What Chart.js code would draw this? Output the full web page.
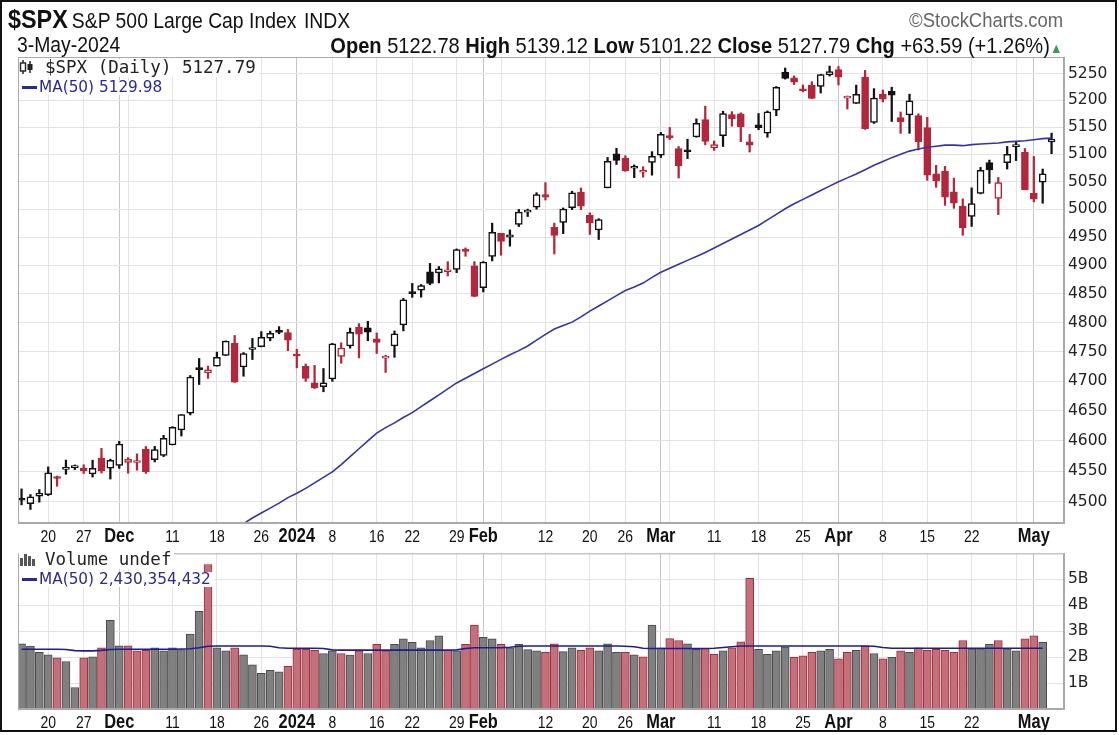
<!DOCTYPE html>
<html>
<head>
<meta charset="utf-8">
<script src="https://cdn.jsdelivr.net/npm/chart.js@4.4.1/dist/chart.umd.min.js"></script>
<style>
  body { margin: 0; background: #fff; }
  #wrap { position: relative; width: 1119px; height: 735px; background: #fff; overflow: hidden; font-family: "Liberation Sans", Arial, sans-serif; color: #111; }
  #frame { position: absolute; left: 0; top: 0; width: 1117px; height: 732px; box-sizing: border-box; border: 2px solid #111; pointer-events: none; }
  canvas { position: absolute; left: 0; }
  .nar { position: absolute; white-space: nowrap; transform: scaleX(0.9); }
  .nl { transform-origin: left top; }
  .nr { transform-origin: right top; }
  .lg { position: absolute; white-space: nowrap; background: #fff; line-height: 1; }
  .mono { font-family: "DejaVu Sans Mono", monospace; font-size: 17.5px; color: #222; }
  .ma { font-family: "DejaVu Sans", sans-serif; font-size: 15.3px; color: #2a2a90; }
  .dash { display: inline-block; width: 15px; height: 3px; background: #2a2a90; vertical-align: middle; margin: 0 2px 0 3px; }
</style>
</head>
<body>
<div id="wrap">
  <canvas id="price" width="1119" height="550" style="top:0"></canvas>
  <canvas id="volume" width="1119" height="195" style="top:540px"></canvas>

  <div class="nar nl" style="left:8px; top:4px;">
    <b style="font-size:26px">$SPX</b>
    <span style="font-size:21.5px">S&amp;P 500 Large Cap Index</span>
    <span style="font-size:21.5px; margin-left:4px">INDX</span>
  </div>
  <div class="nar nr" style="right:56px; top:8px; font-size:20.5px; color:#666;">&copy;StockCharts.com</div>
  <div class="nar nl" style="left:17px; top:33px; font-size:21.5px;">3-May-2024</div>
  <div class="nar nr" style="right:57px; top:33px; font-size:22.3px;">
    <b>Open</b> 5122.78 <b>High</b> 5139.12 <b>Low</b> 5101.22 <b>Close</b> 5127.79 <b>Chg</b> +63.59 (+1.26%)<span style="color:#3c9a4c; font-size:14px">&#9650;</span>
  </div>

  <div class="lg mono" style="left:19px; top:59px; padding-right:3px;">
    <svg width="16" height="14" viewBox="0 0 16 14" style="vertical-align:-1px"><line x1="4" y1="0" x2="4" y2="14" stroke="#222" stroke-width="1.5"/><rect x="1.5" y="3" width="5" height="8" fill="#fff" stroke="#222" stroke-width="1.4"/><line x1="11" y1="1" x2="11" y2="13" stroke="#222" stroke-width="1.5"/><rect x="8.5" y="4" width="5" height="6" fill="#222"/></svg><span style="margin-left:10px">$SPX (Daily) 5127.79</span>
  </div>
  <div class="lg ma" style="left:19px; top:80px; padding-right:3px;"><span class="dash"></span>MA(50) 5129.98</div>

  <div class="lg mono" style="left:19px; top:551px; padding-right:3px;">
    <svg width="16" height="14" viewBox="0 0 16 14" style="vertical-align:-1px"><rect x="1" y="6" width="3" height="8" fill="#555"/><rect x="5" y="2" width="3" height="12" fill="#555"/><rect x="9" y="4" width="3" height="10" fill="#555"/><rect x="13" y="7" width="3" height="7" fill="#555"/></svg><span style="margin-left:10px">Volume undef</span>
  </div>
  <div class="lg ma" style="left:19px; top:572px; padding-right:3px;"><span class="dash"></span>MA(50) 2,430,354,432</div>

  <div id="frame"></div>
</div>

<script>
// trading days shown, Nov 15 2023 .. May 3 2024 (index = position on the x axis)
const days = ['2023-11-15','2023-11-16','2023-11-17','2023-11-20','2023-11-21','2023-11-22','2023-11-24','2023-11-27','2023-11-28','2023-11-29','2023-11-30',
  '2023-12-01','2023-12-04','2023-12-05','2023-12-06','2023-12-07','2023-12-08','2023-12-11','2023-12-12','2023-12-13','2023-12-14','2023-12-15','2023-12-18','2023-12-19','2023-12-20','2023-12-21','2023-12-22','2023-12-26','2023-12-27','2023-12-28','2023-12-29',
  '2024-01-02','2024-01-03','2024-01-04','2024-01-05','2024-01-08','2024-01-09','2024-01-10','2024-01-11','2024-01-12','2024-01-16','2024-01-17','2024-01-18','2024-01-19','2024-01-22','2024-01-23','2024-01-24','2024-01-25','2024-01-26','2024-01-29','2024-01-30','2024-01-31',
  '2024-02-01','2024-02-02','2024-02-05','2024-02-06','2024-02-07','2024-02-08','2024-02-09','2024-02-12','2024-02-13','2024-02-14','2024-02-15','2024-02-16','2024-02-20','2024-02-21','2024-02-22','2024-02-23','2024-02-26','2024-02-27','2024-02-28','2024-02-29',
  '2024-03-01','2024-03-04','2024-03-05','2024-03-06','2024-03-07','2024-03-08','2024-03-11','2024-03-12','2024-03-13','2024-03-14','2024-03-15','2024-03-18','2024-03-19','2024-03-20','2024-03-21','2024-03-22','2024-03-25','2024-03-26','2024-03-27','2024-03-28',
  '2024-04-01','2024-04-02','2024-04-03','2024-04-04','2024-04-05','2024-04-08','2024-04-09','2024-04-10','2024-04-11','2024-04-12','2024-04-15','2024-04-16','2024-04-17','2024-04-18','2024-04-19','2024-04-22','2024-04-23','2024-04-24','2024-04-25','2024-04-26','2024-04-29','2024-04-30',
  '2024-05-01','2024-05-02','2024-05-03'];

const opens = [4505.30,4497.08,4509.55,4511.70,4538.77,4553.04,4555.84,4554.86,4545.55,4571.84,4554.87,
  4559.43,4564.37,4564.37,4586.23,4568.84,4576.20,4593.39,4618.30,4646.20,4721.04,4714.23,4725.58,4743.72,4764.73,4724.29,4753.92,4758.86,4773.45,4786.44,4782.88,
  4745.20,4725.07,4697.42,4690.57,4703.70,4741.93,4759.94,4792.13,4791.18,4772.35,4739.13,4760.10,4796.28,4853.42,4856.80,4888.56,4886.66,4888.91,4892.95,4925.89,4899.19,
  4861.11,4916.06,4957.19,4950.16,4973.05,4995.16,5004.17,5026.83,4967.94,4976.44,5003.14,5031.13,4989.32,4963.03,5038.83,5100.92,5093.00,5074.60,5067.20,5085.36,
  5098.51,5130.99,5110.52,5108.03,5132.38,5164.46,5111.96,5134.30,5173.49,5175.14,5123.31,5154.77,5139.09,5181.69,5253.43,5242.48,5219.52,5228.85,5226.31,5248.03,
  5257.97,5204.29,5194.37,5244.05,5158.95,5211.37,5217.03,5167.88,5172.95,5171.51,5149.67,5064.59,5068.97,5031.52,5005.44,4987.33,5028.85,5084.86,5019.88,5084.65,5114.13,5103.78,
  5029.03,5049.32,5122.78];
const highs = [4521.17,4511.99,4520.12,4557.11,4542.14,4568.43,4560.31,4560.52,4568.14,4587.64,4569.89,
  4599.39,4572.37,4578.56,4590.74,4590.92,4609.23,4623.71,4643.93,4709.69,4738.57,4725.53,4749.52,4768.69,4778.01,4748.71,4772.94,4784.72,4785.39,4793.30,4788.43,
  4754.33,4729.29,4726.78,4721.49,4764.54,4765.47,4790.80,4798.50,4802.40,4782.34,4744.23,4785.79,4842.07,4868.41,4866.48,4903.68,4898.15,4906.69,4929.31,4931.09,4906.75,
  4906.97,4975.29,4957.19,4963.13,4999.89,5000.40,5030.06,5048.39,4975.29,5002.52,5032.72,5038.70,4993.71,4983.21,5094.39,5111.06,5097.66,5080.69,5077.37,5104.99,
  5140.33,5149.67,5114.54,5127.97,5165.62,5189.26,5124.66,5179.87,5179.14,5176.85,5136.86,5175.60,5180.31,5226.19,5261.10,5246.09,5229.09,5235.16,5249.26,5264.85,
  5263.95,5208.34,5228.75,5256.59,5222.18,5219.57,5224.81,5178.43,5211.78,5175.03,5168.43,5079.84,5077.96,5056.66,5019.02,5038.84,5076.12,5089.48,5057.75,5114.62,5123.49,5110.83,
  5096.12,5073.21,5139.12];
const lows = [4495.31,4487.83,4499.66,4510.36,4525.51,4545.05,4552.80,4546.32,4540.51,4547.15,4537.24,
  4554.71,4546.72,4551.68,4546.50,4565.22,4574.06,4593.39,4608.09,4643.23,4694.34,4704.69,4725.58,4743.72,4697.82,4708.35,4736.77,4758.45,4768.90,4780.98,4751.99,
  4722.67,4699.71,4687.53,4682.11,4699.82,4730.35,4756.20,4739.58,4768.98,4747.12,4714.82,4740.57,4785.87,4844.05,4844.37,4865.94,4869.34,4881.47,4887.40,4916.27,4845.15,
  4853.52,4907.99,4918.09,4934.16,4969.05,4987.09,5000.34,5016.83,4920.31,4956.45,4999.44,4999.52,4955.02,4946.00,5038.83,5081.46,5068.91,5057.29,5058.35,5061.89,
  5094.16,5127.18,5056.82,5092.22,5131.59,5117.50,5107.25,5114.48,5151.88,5123.30,5104.35,5145.47,5131.59,5171.55,5240.09,5229.87,5216.09,5203.42,5213.92,5245.82,
  5229.20,5184.05,5194.37,5146.06,5157.21,5197.35,5160.78,5138.70,5138.77,5107.94,5052.47,5039.83,5007.25,5001.89,4953.56,4969.40,5027.96,5047.02,4990.58,5073.14,5088.65,5035.31,
  5013.45,5011.05,5101.22];
const closes = [4502.88,4508.24,4514.02,4547.38,4538.19,4556.62,4559.34,4550.43,4554.89,4550.58,4567.80,
  4594.63,4569.78,4567.18,4549.34,4585.59,4604.37,4622.44,4643.70,4707.09,4719.55,4719.19,4740.56,4768.37,4698.35,4746.75,4754.63,4774.75,4781.58,4783.35,4769.83,
  4742.83,4704.81,4688.68,4697.24,4763.54,4756.50,4783.45,4780.24,4783.83,4765.98,4739.21,4780.94,4839.81,4850.43,4864.60,4868.55,4894.16,4890.97,4927.93,4924.97,4845.65,
  4906.19,4958.61,4942.81,4954.23,4995.06,4997.91,5026.61,5021.84,4953.17,5000.62,5029.73,5005.57,4975.51,4981.80,5087.03,5088.80,5069.53,5078.18,5069.76,5096.27,
  5137.08,5130.95,5078.65,5104.76,5157.36,5123.69,5117.94,5175.27,5165.31,5150.48,5117.09,5149.42,5178.51,5224.62,5241.53,5234.18,5218.19,5203.58,5248.49,5254.35,
  5243.77,5205.81,5211.49,5147.21,5204.34,5202.39,5209.91,5160.64,5199.06,5123.41,5061.82,5051.41,5022.21,5011.12,4967.23,5010.60,5070.55,5071.63,5048.42,5099.96,5116.17,5035.69,
  5018.39,5064.20,5127.79];
const prevCloseBefore = 4495.70; // close of Nov 14, colours the first candle

// 50-day moving average of the close (null = not on screen)
const priceMA = [null,null,null,null,null,null,null,null,null,null,null,null,null,null,null,null,null,null,null,null,null,null,
  4440,4449,4457,4465,4474,4482,4490,4498,4507,4514,4522,4531,4540,4549,4561,4574,4587,4600,4613,4622,4630,4639,4647,4657,4667,4677,4687,4697,
  4705,4713,4721,4729,4737,4745,4752,4760,4770,4780,4789,4795,4801,4810,4820,4829,4838,4847,4856,4862,4869,4879,4888,4895,4902,4909,4916,4923,
  4931,4939,4947,4955,4963,4971,4981,4991,5001,5010,5018,5026,5034,5042,5050,5057,5064,5072,5080,5087,5094,5100,5106,5110,5113,5115,5117,5117,
  5116,5118,5119,5120,5121,5123,5124,5125,5127,5129,5130];

// daily volume, billions of shares (May 3 not yet reported: "undef")
const volumes = [2.51,2.42,2.18,2.09,1.97,1.83,0.83,1.97,2.01,2.36,3.42,
  2.43,2.43,2.24,2.26,2.36,2.24,2.36,2.29,2.89,3.76,5.57,2.36,2.24,2.36,2.09,1.70,1.37,1.49,1.43,1.64,
  2.30,2.30,2.26,2.14,2.24,2.14,2.08,2.24,2.14,2.49,2.24,2.49,2.70,2.57,2.36,2.64,2.82,2.26,2.24,2.49,3.23,
  2.76,2.70,2.49,2.36,2.49,2.29,2.24,2.18,2.51,2.21,2.36,2.26,2.36,2.24,2.51,2.18,2.18,2.09,2.01,3.23,
  2.36,2.71,2.64,2.51,2.30,2.33,2.11,2.24,2.36,2.59,5.04,2.30,2.11,2.24,2.39,1.99,2.05,2.18,2.24,2.30,
  1.93,2.18,2.26,2.43,2.14,1.93,1.99,2.24,2.18,2.36,2.26,2.30,2.26,2.18,2.64,2.32,2.32,2.49,2.64,2.32,2.24,2.70,
  2.82,2.57,null];
// 50-day average volume, billions
const volumeMA = [2.30,2.30,2.30,2.30,2.30,2.29,2.25,2.24,2.24,2.26,
  2.29,2.30,2.30,2.30,2.30,2.30,2.30,2.30,2.31,2.32,2.36,
  2.42,2.43,2.43,2.43,2.43,2.43,2.43,2.42,
  2.36,2.34,2.34,2.34,2.34,2.33,
  2.28,2.27,2.27,2.27,2.27,2.27,2.27,2.27,2.27,2.27,2.27,2.27,2.27,2.27,2.28,
  2.33,2.36,2.36,2.36,2.36,2.38,
  2.42,2.43,2.43,2.43,2.43,2.43,2.43,2.43,2.43,2.43,2.43,2.43,2.42,2.40,
  2.34,2.33,2.33,2.33,2.33,2.33,2.33,2.33,2.34,2.37,
  2.40,2.43,2.43,2.43,2.43,2.43,2.43,2.43,2.43,2.43,2.43,2.43,2.43,2.43,2.43,2.43,2.42,
  2.37,2.34,2.34,2.34,2.34,2.34,2.34,2.34,2.34,2.34,2.34,2.34,2.34,2.34,2.34,2.34,2.34,2.34,2.34];

// axis ticks
const xTickIdx  = [3, 7, 11, 12, 17, 22, 27, 31, 35, 40, 44, 49, 52, 54, 59, 64, 68, 72, 73, 78, 83, 88, 92, 97, 102, 107, 112, 114];
const xTickText = ['20','27','Dec','','11','18','26','2024','8','16','22','29','Feb','','12','20','26','Mar','','11','18','25','Apr','8','15','22','','May'];
const monthIdx  = [11, 31, 52, 72, 92, 114];
const priceTicks  = [4500,4550,4600,4650,4700,4750,4800,4850,4900,4950,5000,5050,5100,5150,5200,5250];
const volumeTicks = [1, 2, 3, 4, 5];

const RED = '#b3263b', BLACK = '#111111';
const GRID = '#e3e3e3', GRID_MONTH = '#c4c4c4', EDGE = '#a9a9a9';

// candle colours: outline by close vs previous close, fill by close vs open
const candleColor = closes.map((c, i) => c >= (i ? closes[i - 1] : prevCloseBefore) ? BLACK : RED);
const candleFill = closes.map((c, i) => c > opens[i] ? '#ffffff' : candleColor[i]);
const volUp = volumes.map((v, i) => closes[i] >= (i ? closes[i - 1] : prevCloseBefore));

const panelFrame = {
    id: 'panelFrame',
    afterDraw(chart) {
        const { ctx, chartArea: a } = chart;
        ctx.save();
        ctx.strokeStyle = EDGE;
        ctx.lineWidth = 1;
        ctx.strokeRect(a.left + 0.5, a.top + 0.5, a.width - 1, a.height - 1);
        ctx.restore();
    }
};

// date labels in a condensed face: drawn at the x scale's own tick pixels, squeezed horizontally
const narrowDateLabels = {
    id: 'narrowDateLabels',
    afterDraw(chart) {
        const s = chart.scales.x, ctx = chart.ctx;
        ctx.save();
        ctx.fillStyle = '#111';
        ctx.textAlign = 'center';
        ctx.textBaseline = 'alphabetic';
        s.ticks.forEach((t, i) => {
            const txt = xTickText[i];
            if (!txt) return;
            const month = monthIdx.includes(t.value);
            ctx.font = month ? 'bold 20px "Liberation Sans", Arial' : '17px "Liberation Sans", Arial';
            ctx.save();
            ctx.translate(s.getPixelForValue(t.value), s.top + 19);
            ctx.scale(0.82, 1);
            ctx.fillText(txt, 0, 0);
            ctx.restore();
        });
        ctx.restore();
    }
};

function xAxis(height) {
    return {
        type: 'linear', min: -0.4, max: 117.4, offset: false,
        afterBuildTicks: s => { s.ticks = xTickIdx.map(v => ({ value: v })); },
        afterFit: s => { s.height = height; },
        grid: { offset: false, drawTicks: false, color: c => (c.tick && monthIdx.includes(c.tick.value)) ? GRID_MONTH : GRID },
        border: { color: EDGE },
        ticks: { display: false, autoSkip: false }
    };
}

const pts = arr => arr.map((v, i) => ({ x: i, y: v }));

new Chart(document.getElementById('price'), {
    type: 'bar',
    data: {
        datasets: [
            {
                type: 'line', label: 'MA(50)', data: pts(priceMA),
                borderColor: '#3434a6', borderWidth: 1.6, pointRadius: 0, tension: 0, order: 0
            },
            {
                label: 'body', data: closes.map((c, i) => ({ x: i, y: [Math.min(opens[i], c), Math.max(opens[i], c)] })),
                backgroundColor: candleFill, borderColor: candleColor, borderWidth: 1.5, borderSkipped: false,
                barThickness: 7, minBarLength: 2, grouped: false, order: 1
            },
            {
                label: 'wick', data: highs.map((h, i) => ({ x: i, y: [lows[i], h] })),
                backgroundColor: candleColor, borderWidth: 0, barThickness: 1.6, grouped: false, order: 2
            }
        ]
    },
    options: {
        responsive: false, animation: false, devicePixelRatio: 1,
        layout: { padding: { left: 18, top: 57, right: 0, bottom: 0 } },
        plugins: { legend: { display: false }, tooltip: { enabled: false } },
        scales: {
            x: xAxis(27),
            y: {
                type: 'logarithmic', position: 'right', min: 4466, max: 5282,
                afterBuildTicks: s => { s.ticks = priceTicks.map(v => ({ value: v })); },
                afterFit: s => { s.width = 55; },
                grid: { color: GRID, drawTicks: false },
                border: { color: EDGE },
                ticks: { padding: 4, color: '#222', font: { family: 'DejaVu Sans', size: 15.5 }, callback: v => String(v) }
            }
        }
    },
    plugins: [panelFrame, narrowDateLabels]
});

new Chart(document.getElementById('volume'), {
    type: 'bar',
    data: {
        datasets: [
            {
                type: 'line', label: 'MA(50)', data: pts(volumeMA),
                borderColor: '#1e1e8c', borderWidth: 1.6, pointRadius: 0, tension: 0, order: 0
            },
            {
                label: 'Volume', data: pts(volumes),
                backgroundColor: volUp.map(u => u ? '#808080' : '#c2717b'),
                borderColor: volUp.map(u => u ? '#4a4a4a' : '#a32a3c'),
                borderWidth: 1, barThickness: 8, grouped: false, order: 1
            }
        ]
    },
    options: {
        responsive: false, animation: false, devicePixelRatio: 1,
        layout: { padding: { left: 18, top: 8, right: 0, bottom: 0 } },
        plugins: { legend: { display: false }, tooltip: { enabled: false } },
        scales: {
            x: xAxis(26),
            y: {
                type: 'linear', position: 'right', min: 0, max: 6,
                afterBuildTicks: s => { s.ticks = volumeTicks.map(v => ({ value: v })); },
                afterFit: s => { s.width = 55; },
                grid: { color: GRID, drawTicks: false },
                border: { color: EDGE },
                ticks: { padding: 4, color: '#222', font: { family: 'DejaVu Sans', size: 15.5 }, callback: v => v + 'B' }
            }
        }
    },
    plugins: [panelFrame, narrowDateLabels]
});
</script>
</body>
</html>
